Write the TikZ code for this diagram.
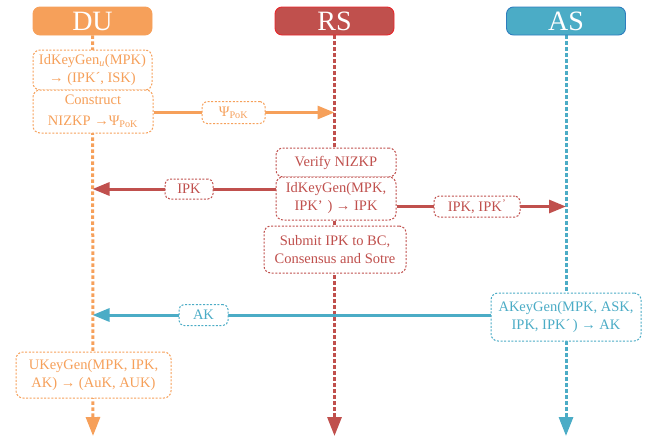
\documentclass[tikz,border=0pt]{standalone}
\usepackage{fontspec}
\setmainfont{Liberation Serif}
\usetikzlibrary{arrows.meta,backgrounds}
\definecolor{duc}{HTML}{F6A05A}
\definecolor{rsc}{HTML}{C0504D}
\definecolor{rsb}{HTML}{E8282C}
\definecolor{asc}{HTML}{4BACC6}
\definecolor{asb}{HTML}{2E7DBE}
\tikzset{
  header/.style={rounded corners=7pt, line width=0.9pt, minimum width=119pt,
    minimum height=28pt, inner sep=0pt, text=white,
    font=\fontsize{28}{28}\selectfont},
  stepbox/.style={rounded corners=7pt, draw, fill=white, line width=1pt,
    dash pattern=on 2pt off 1.6pt, align=center, inner sep=0pt,
    font=\fontsize{14.5}{18}\selectfont},
  msglabel/.style={stepbox, rounded corners=5pt},
  lifeline/.style={line width=3pt, dash pattern=on 3.5pt off 2.5pt,
    -{Triangle[length=19pt,width=14pt]}},
  message/.style={line width=3pt, -{Triangle[length=17pt,width=13pt]}}
}
\begin{document}
\begin{tikzpicture}[x=1pt,y=-1pt]
\useasboundingbox (0,0) rectangle (656,439);

% participants
\node[header, fill=duc, draw=duc] (du) at (92.5,21) {DU};
\node[header, fill=rsc, draw=rsb] (rs) at (334.5,21) {RS};
\node[header, fill=asc, draw=asb] (as) at (566,21) {AS};

% ends of the lifelines
\coordinate (duEnd) at (93,436);
\coordinate (rsEnd) at (334.5,436);
\coordinate (asEnd) at (566,436);

% DU steps
\node[stepbox, draw=duc, text=duc, minimum width=119pt, minimum height=40pt]
  (idku) at (92.5,70) {IdKeyGen\textsubscript{\textit{u}}(MPK)\\→ (IPK´, ISK)};
\node[stepbox, draw=duc, text=duc, minimum width=120pt, minimum height=43pt]
  (nizk) at (93,111.5) {Construct\\[3pt]NIZKP →Ψ\textsubscript{PoK}};
\node[stepbox, draw=duc, text=duc, minimum width=155pt, minimum height=46pt]
  (ukey) at (93.5,375) {UKeyGen(MPK, IPK,\\AK) → (AuK, AUK)};

% RS steps
\node[stepbox, draw=rsc, text=rsc, minimum width=120pt, minimum height=29pt]
  (verify) at (336,162.5) {Verify NIZKP};
\node[stepbox, draw=rsc, text=rsc, minimum width=120pt, minimum height=43pt]
  (idk) at (336,198.5) {IdKeyGen(MPK,\\IPK’\,\,) → IPK};
\node[stepbox, draw=rsc, text=rsc, minimum width=142pt, minimum height=47pt]
  (submit) at (335,249.5) {Submit IPK to BC,\\Consensus and Sotre};

% AS step
\node[stepbox, draw=asc, text=asc, minimum width=150pt, minimum height=48pt]
  (akey) at (566,317) {AKeyGen(MPK, ASK,\\IPK, IPK´\,) → AK};

% message labels
\node[msglabel, draw=duc, text=duc, minimum width=63pt, minimum height=22pt]
  (lpsi) at (233.5,112.5) {Ψ\textsubscript{PoK}};
\node[msglabel, draw=rsc, text=rsc, minimum width=48pt, minimum height=20pt]
  (lipk) at (189,189) {IPK};
\node[msglabel, draw=rsc, text=rsc, minimum width=86pt, minimum height=21pt]
  (lipk2) at (477,206.5) {IPK, IPK\textsuperscript{\kern0.5pt’}};
\node[msglabel, draw=asc, text=asc, minimum width=49pt, minimum height=21pt]
  (lak) at (203.5,315) {AK};

\begin{pgfonlayer}{background}
  % lifelines
  \draw[lifeline, duc] (du.south) -- (duEnd);
  \draw[lifeline, rsc] (rs.south) -- (rsEnd);
  \draw[lifeline, asc] (as.south) -- (asEnd);
  % messages
  \draw[message, duc] (nizk.east |- lpsi) -- (rs.south |- lpsi);
  \draw[message, rsc] (idk.west |- lipk) -- (du.south |- lipk);
  \draw[message, rsc] (idk.east |- lipk2) -- (as.south |- lipk2);
  \draw[message, asc] (akey.west |- lak) -- (du.south |- lak);
\end{pgfonlayer}
\end{tikzpicture}
\end{document}
